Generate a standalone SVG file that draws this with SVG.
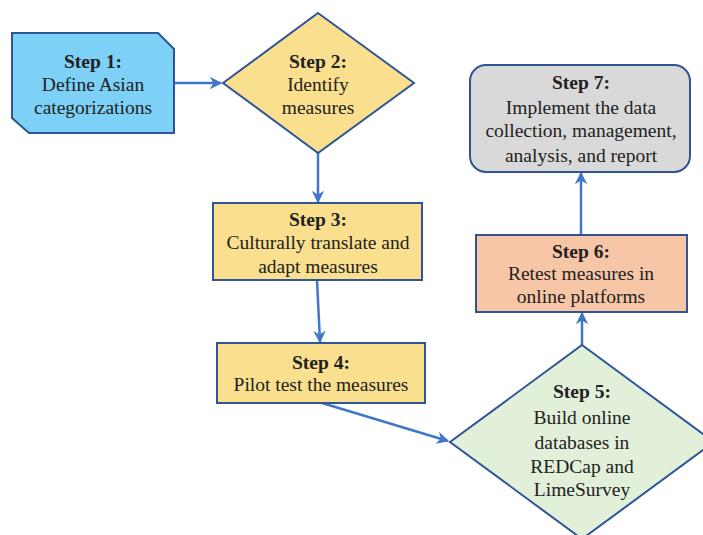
<svg xmlns="http://www.w3.org/2000/svg" width="703" height="535" viewBox="0 0 703 535">
<style>
.shape{stroke:#2f5597;stroke-width:2;stroke-linejoin:miter}
.conn{fill:none;stroke:#3f78c6;stroke-width:2.5}
text{font-family:"Liberation Serif","Times New Roman",serif;font-size:19.5px;fill:#222;text-anchor:middle}
.b{font-weight:bold}
</style>
<defs>
<marker id="arr" viewBox="0 0 10 10" refX="9" refY="5" markerWidth="5" markerHeight="5" orient="auto" markerUnits="strokeWidth">
<path d="M0,0 L10,5 L0,10 L3,5 z" fill="#3f78c6"/>
</marker>
</defs>
<rect width="703" height="535" fill="#fff"/>
<g id="connectors">
<line class="conn" x1="174" y1="83" x2="221" y2="83" marker-end="url(#arr)"/>
<line class="conn" x1="318" y1="153" x2="318" y2="202" marker-end="url(#arr)"/>
<line class="conn" x1="317" y1="280" x2="320" y2="342" marker-end="url(#arr)"/>
<line class="conn" x1="322" y1="403" x2="448" y2="441" marker-end="url(#arr)"/>
<line class="conn" x1="582" y1="345" x2="582" y2="313" marker-end="url(#arr)"/>
<line class="conn" x1="581" y1="235" x2="581" y2="173" marker-end="url(#arr)"/>
</g>
<g id="step1">
<polygon class="shape" fill="#7dd0f6" points="12,33 158,33 174,49 174,133 29,133 12,118"/>
<text class="b" x="93" y="68">Step 1:</text>
<text x="93" y="91">Define Asian</text>
<text x="93" y="114">categorizations</text>
</g>
<g id="step2">
<polygon class="shape" fill="#f9df8e" points="318,13 414,83 318,153 223,83"/>
<text class="b" x="318" y="68">Step 2:</text>
<text x="318" y="91">Identify</text>
<text x="318" y="114">measures</text>
</g>
<g id="step3">
<rect class="shape" fill="#f9df8e" x="213" y="203" width="209" height="77"/>
<text class="b" x="318" y="226">Step 3:</text>
<text x="318" y="249">Culturally translate and</text>
<text x="318" y="273">adapt measures</text>
</g>
<g id="step4">
<rect class="shape" fill="#f9df8e" x="217" y="343" width="208" height="60"/>
<text class="b" x="321" y="369">Step 4:</text>
<text x="321" y="391">Pilot test the measures</text>
</g>
<g id="step5">
<polygon class="shape" fill="#e2efd9" points="582,345 714,442 582,539 450,442"/>
<text class="b" x="582" y="398">Step 5:</text>
<text x="582" y="424">Build online</text>
<text x="582" y="449">databases in</text>
<text x="582" y="473">REDCap and</text>
<text x="582" y="496">LimeSurvey</text>
</g>
<g id="step6">
<rect class="shape" fill="#f7c6a6" x="476" y="235" width="211" height="77"/>
<text class="b" x="581" y="258">Step 6:</text>
<text x="581" y="280">Retest measures in</text>
<text x="581" y="303">online platforms</text>
</g>
<g id="step7">
<rect class="shape" fill="#d9d9d9" x="470" y="65" width="220" height="107" rx="16"/>
<text class="b" x="581" y="89">Step 7:</text>
<text x="581" y="114">Implement the data</text>
<text x="581" y="137">collection, management,</text>
<text x="581" y="162">analysis, and report</text>
</g>
</svg>
